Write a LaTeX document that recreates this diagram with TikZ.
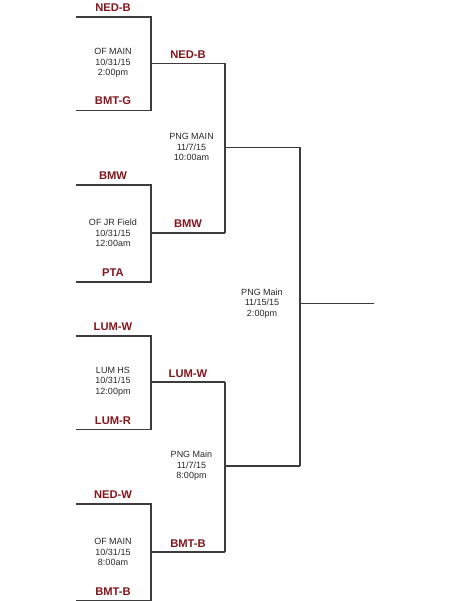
\documentclass[tikz,border=0pt]{standalone}
\usepackage{fontspec}
\setmainfont{Liberation Sans}
\definecolor{teamred}{RGB}{130,22,30}
\definecolor{linegray}{RGB}{60,60,60}
\definecolor{infogray}{RGB}{40,40,40}
\tikzset{
  bline/.style={draw=linegray, line width=1.1pt},
  team/.style={font=\bfseries\fontsize{11.2}{13}\selectfont, text=teamred, anchor=base, inner sep=0pt},
  info/.style={font=\fontsize{9}{10.6}\selectfont, text=infogray, align=center, inner sep=0pt}
}
\begin{document}
\begin{tikzpicture}[x=1pt,y=-1pt]
\useasboundingbox (0,0) rectangle (451,601);
% round 1 coordinates
\foreach \g/\t/\m/\b in {A/17/63.5/110.5, B/185/233/282, C/336/382/429.5, D/504/552/600.5}{
  \coordinate (\g tl) at (76,\t);
  \coordinate (\g tr) at (151,\t);
  \coordinate (\g bl) at (76,\b);
  \coordinate (\g br) at (151,\b);
  \coordinate (\g m) at (151,\m);
  \coordinate (\g w) at (225,\m);
}
\coordinate (S1) at (225,147.5);
\coordinate (S1r) at (300,147.5);
\coordinate (S2) at (225,466);
\coordinate (S2r) at (300,466);
\coordinate (F) at (300,303.5);
\coordinate (Fr) at (374,303.5);
% bracket lines
\foreach \g in {A,B,C,D}{
  \draw[bline] (\g tl) -- (\g tr) -- (\g br) -- (\g bl);
  \draw[bline] (\g m) -- (\g w);
}
\draw[bline] (Aw) -- (Bw);
\draw[bline] (Cw) -- (Dw);
\draw[bline] (S1) -- (S1r);
\draw[bline] (S2) -- (S2r);
\draw[bline] (S1r) -- (S2r);
\draw[bline] (F) -- (Fr);
% round 1 teams
\node[team] (tA1) at (113,11.5) {NED-B};
\node[team] (tA2) at (113,104.5) {BMT-G};
\node[team] (tB1) at (113,179.5) {BMW};
\node[team] (tB2) at (113,276.5) {PTA};
\node[team] (tC1) at (113,330.5) {LUM-W};
\node[team] (tC2) at (113,424) {LUM-R};
\node[team] (tD1) at (113,498.5) {NED-W};
\node[team] (tD2) at (113,595.5) {BMT-B};
% round 2 teams
\node[team] (wA) at (188,59) {NED-B};
\node[team] (wB) at (188,228) {BMW};
\node[team] (wC) at (188,377.5) {LUM-W};
\node[team] (wD) at (188,547.5) {BMT-B};
% game info
\node[info] (iA) at (113,63) {OF MAIN\\10/31/15\\2:00pm};
\node[info] (iB) at (113,233) {OF JR Field\\10/31/15\\12:00am};
\node[info] (iC) at (113,381.5) {LUM HS\\10/31/15\\12:00pm};
\node[info] (iD) at (113,552) {OF MAIN\\10/31/15\\8:00am};
\node[info] (iS1) at (191.5,147) {PNG MAIN\\11/7/15\\10:00am};
\node[info] (iS2) at (191.5,466) {PNG Main\\11/7/15\\8:00pm};
\node[info] (iF) at (262,303.5) {PNG Main\\11/15/15\\2:00pm};
\end{tikzpicture}
\end{document}
